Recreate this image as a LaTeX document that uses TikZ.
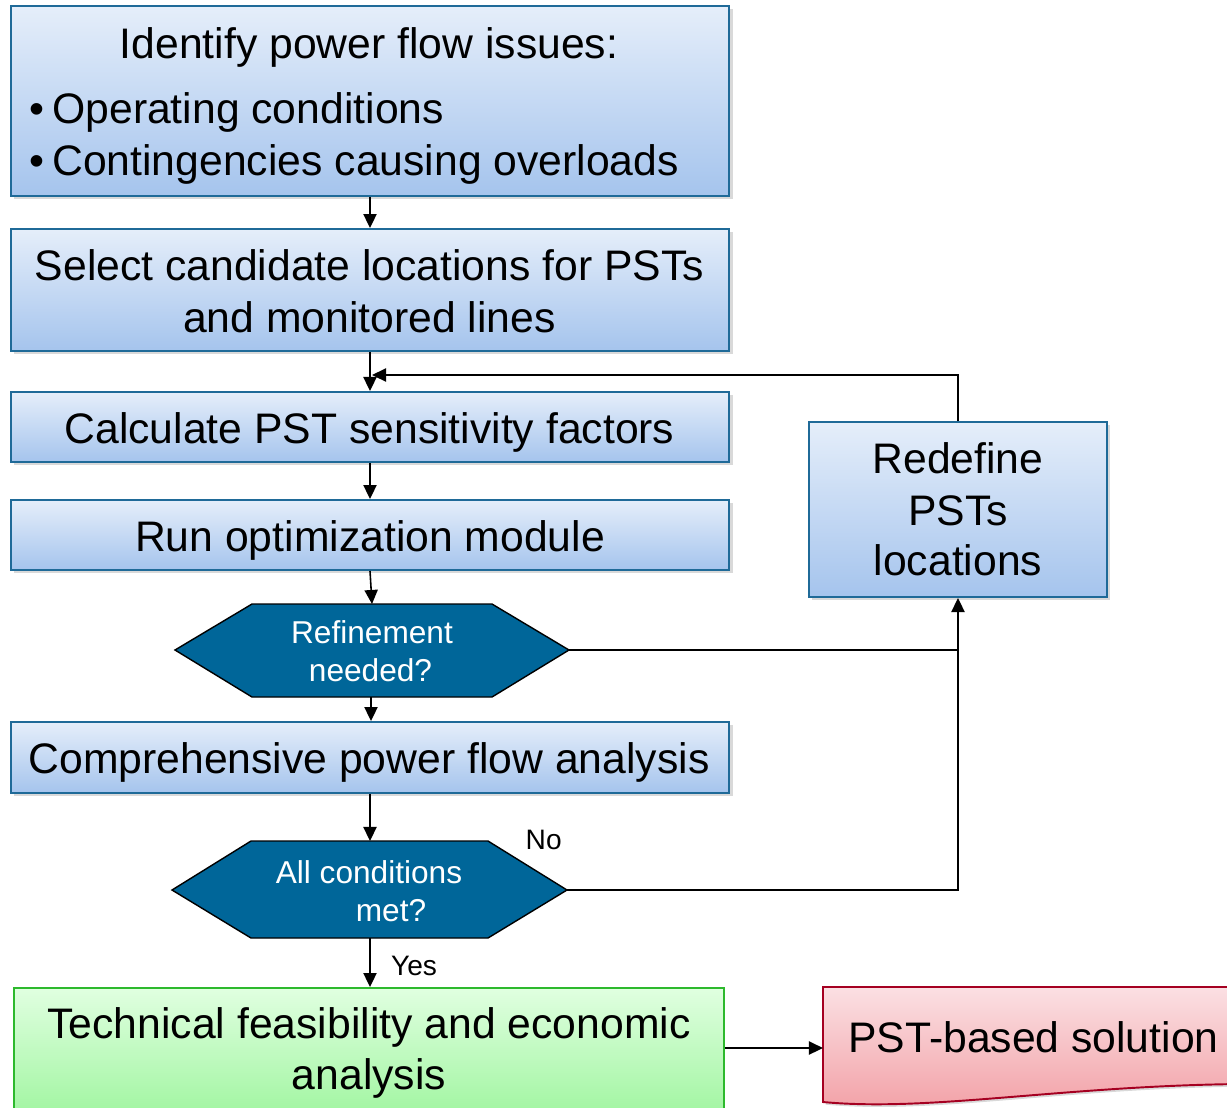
\documentclass[tikz,border=0pt]{standalone}
\usepackage{fontspec}
\setmainfont{Liberation Sans}
\usetikzlibrary{shadows,arrows.meta}
\definecolor{bbord}{RGB}{31,106,152}
\definecolor{btop}{RGB}{229,238,250}
\definecolor{bbot}{RGB}{165,196,237}
\definecolor{hexfill}{RGB}{0,102,153}
\definecolor{gtop}{RGB}{224,255,224}
\definecolor{gbot}{RGB}{160,245,160}
\definecolor{gbord}{RGB}{45,185,45}
\definecolor{rtop}{RGB}{251,224,227}
\definecolor{rbot}{RGB}{242,160,166}
\definecolor{rbord}{RGB}{165,0,33}
\begin{document}
\begin{tikzpicture}[x=0.02cm,y=-0.02cm,
  bluebox/.style={draw=bbord, line width=1.1pt, top color=btop, bottom color=bbot,
    drop shadow={shadow xshift=1.8pt,shadow yshift=-1.8pt,opacity=0.3}, inner sep=0, minimum width=14.38cm},
  big/.style={font=\fontsize{24.3}{29}\selectfont, anchor=base, inner sep=0},
  small/.style={font=\fontsize{18}{22}\selectfont, anchor=base, inner sep=0, text=white},
  lab/.style={font=\fontsize{16}{19}\selectfont, anchor=base, inner sep=0},
  hexa/.style={fill=hexfill, draw=black, line width=0.8pt},
  arr/.style={-{Triangle[length=8pt,width=7.5pt]}, line width=0.9pt},
  ln/.style={line width=0.9pt}]
\useasboundingbox (0,0) rectangle (1227,1107);

% blue boxes
\node[bluebox, minimum height=3.8cm] (b1) at (370,101) {};
\node[bluebox, minimum height=2.44cm] (b2) at (370,290) {};
\node[bluebox, minimum height=1.4cm] (b3) at (370,427) {};
\node[bluebox, minimum height=1.4cm] (b4) at (370,535) {};
\node[bluebox, minimum height=1.42cm] (b5) at (370,757.5) {};
\node[bluebox, minimum width=5.96cm, minimum height=3.5cm] (rd) at (958,509.5) {};

% texts in blue boxes
\node[big] (t1) at (369,58) {Identify power flow issues:};
\node[big] (t1a) at (37,123) {•};
\node[big, anchor=base west] (t1b) at (52,123) {Operating conditions};
\node[big] (t1c) at (37,175) {•};
\node[big, anchor=base west] (t1d) at (52,175) {Contingencies causing overloads};
\node[big] (t2a) at (369.5,280) {Select candidate locations for PSTs};
\node[big] (t2b) at (369.5,332) {and monitored lines};
\node[big] (t3) at (369.5,443) {Calculate PST sensitivity factors};
\node[big] (t4) at (370,551) {Run optimization module};
\node[big] (t5) at (369,773) {Comprehensive power flow analysis};
\node[big] (r1) at (958,473) {Redefine};
\node[big] (r2) at (958,525) {PSTs};
\node[big] (r3) at (958,575) {locations};

% hexagons
\draw[hexa] (175,650) -- (252,604) -- (492,604) -- (569,650) -- (492,697) -- (252,697) -- cycle;
\coordinate (h1n) at (372,604);
\coordinate (h1s) at (371,697);
\coordinate (h1e) at (569,650);
\node[small] (h1a) at (372,643) {Refinement};
\node[small] (h1b) at (370.5,681) {needed?};

\draw[hexa] (172,890) -- (251,841) -- (488,841) -- (567,890) -- (488,938) -- (251,938) -- cycle;
\coordinate (h2n) at (370,841);
\coordinate (h2s) at (370,938);
\coordinate (h2e) at (567,890);
\node[small] (h2a) at (369,883) {All conditions};
\node[small] (h2b) at (391,921) {met?};

% green and red boxes (clipped at the bottom edge)
\begin{scope}
\clip (0,0) rectangle (1227,1107);
\node[draw=gbord, line width=1.1pt, top color=gtop, bottom color=gbot, inner sep=0,
  minimum width=14.2cm, minimum height=2.6cm] (gr) at (369,1053) {};
\path[draw=rbord, line width=1.1pt, top color=rtop, bottom color=rbot,
  drop shadow={shadow xshift=1.5pt,shadow yshift=-1.5pt,opacity=0.3}]
  (823,1102) -- (823,987) -- (1240,987) -- (1240,1084)
  .. controls (1060,1086) and (930,1112) .. (823,1102) -- cycle;
\end{scope}
\coordinate (rsw) at (823,1048);
\node[big] (g1) at (369,1038) {Technical feasibility and economic};
\node[big] (g2) at (369,1089) {analysis};
\node[big] (rs) at (1033.5,1052) {PST-based solution};

% connectors
\draw[arr] (b1) -- (b2);
\draw[arr] (b2) -- (b3);
\coordinate (fb) at (372,375);
\draw[arr] (rd.north) |- (fb);
\draw[arr] (b3) -- (b4);
\draw[arr] (b4.south) -- (h1n);
\draw[arr] (h1s) -- (h1s |- b5.north);
\coordinate (j1) at (958,650);
\draw[ln] (h1e) -- (j1);
\draw[arr] (b5) -- (h2n);
\draw[arr] (h2e) -| (rd.south);
\draw[arr] (h2s) -- (h2s |- gr.north);
\draw[arr] (gr.east |- rsw) -- (rsw);

\node[lab] (no) at (543.7,849) {No};
\node[lab] (yes) at (414,975) {Yes};
\end{tikzpicture}
\end{document}
